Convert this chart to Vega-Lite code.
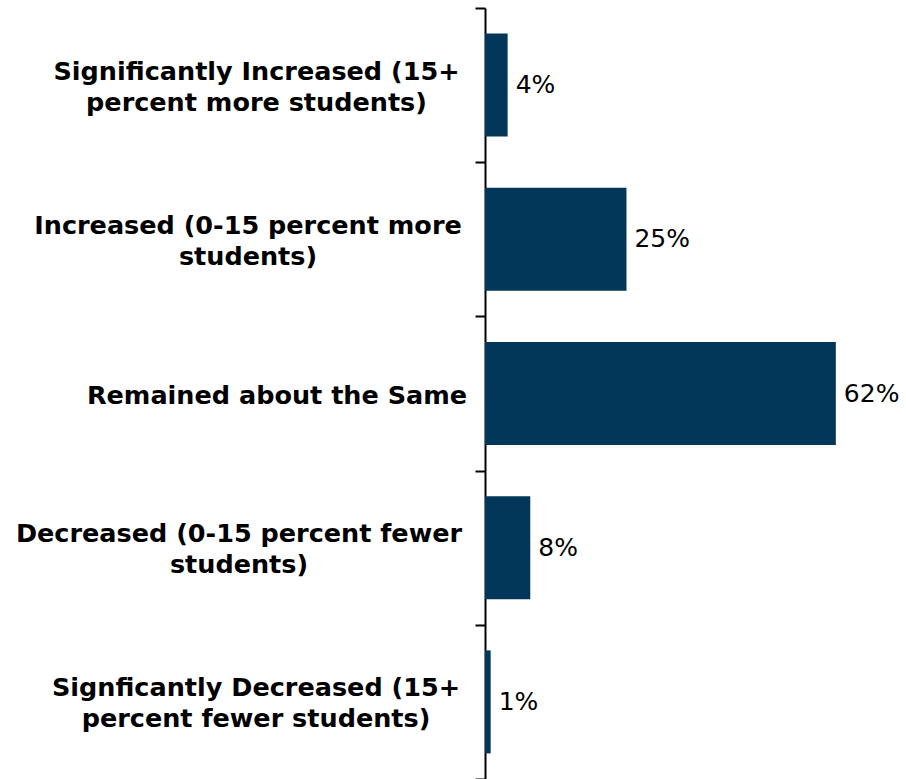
{
  "$schema": "https://vega.github.io/schema/vega-lite/v6.json",
  "width": 421,
  "height": 771,
  "autosize": "none",
  "padding": {"left": 485, "top": 8, "right": 0, "bottom": 0},
  "background": "white",
  "config": {"view": {"stroke": null}},
  "data": {
    "values": [
      {"category": "Significantly Increased (15+|percent more students)", "share": 0.04},
      {"category": "Increased (0-15 percent more|students)", "share": 0.25},
      {"category": "Remained about the Same", "share": 0.62},
      {"category": "Decreased (0-15 percent fewer|students)", "share": 0.08},
      {"category": "Signficantly Decreased (15+|percent fewer students)", "share": 0.01}
    ]
  },
  "encoding": {
    "x": {"field": "share", "type": "quantitative", "scale": {"domain": [0, 0.744], "nice": false, "zero": true}, "axis": null},
    "y": {
      "field": "category",
      "type": "nominal",
      "sort": null,
      "scale": {"paddingInner": 0, "paddingOuter": 0},
      "axis": {
        "title": null,
        "domainColor": "black",
        "domainWidth": 2,
        "tickColor": "black",
        "tickWidth": 2,
        "tickSize": 10,
        "tickBand": "extent",
        "labelFont": "DejaVu Sans",
        "labelFontWeight": "bold",
        "labelFontSize": 25.5,
        "labelColor": "black",
        "labelAlign": "center",
        "labelPadding": {"expr": "datum.value === 'Significantly Increased (15+|percent more students)' ? 219 : datum.value === 'Increased (0-15 percent more|students)' ? 227.5 : datum.value === 'Remained about the Same' ? 198.5 : datum.value === 'Decreased (0-15 percent fewer|students)' ? 236.5 : 219.5"},
        "labelOffset": {"expr": "datum.value === 'Remained about the Same' ? 2 : -14"},
        "labelLineHeight": 31,
        "labelLimit": 0,
        "labelExpr": "isValid(datum.value) ? split(datum.value, '|') : ''"
      }
    }
  },
  "layer": [
    {
      "mark": {"type": "bar", "color": "#03375a", "height": {"band": 0.668}}
    },
    {
      "mark": {"type": "text", "align": "left", "baseline": "middle", "dx": 8, "font": "DejaVu Sans", "fontSize": 25, "color": "black"},
      "encoding": {
        "text": {"field": "share", "type": "quantitative", "format": ".0%"}
      }
    }
  ]
}
